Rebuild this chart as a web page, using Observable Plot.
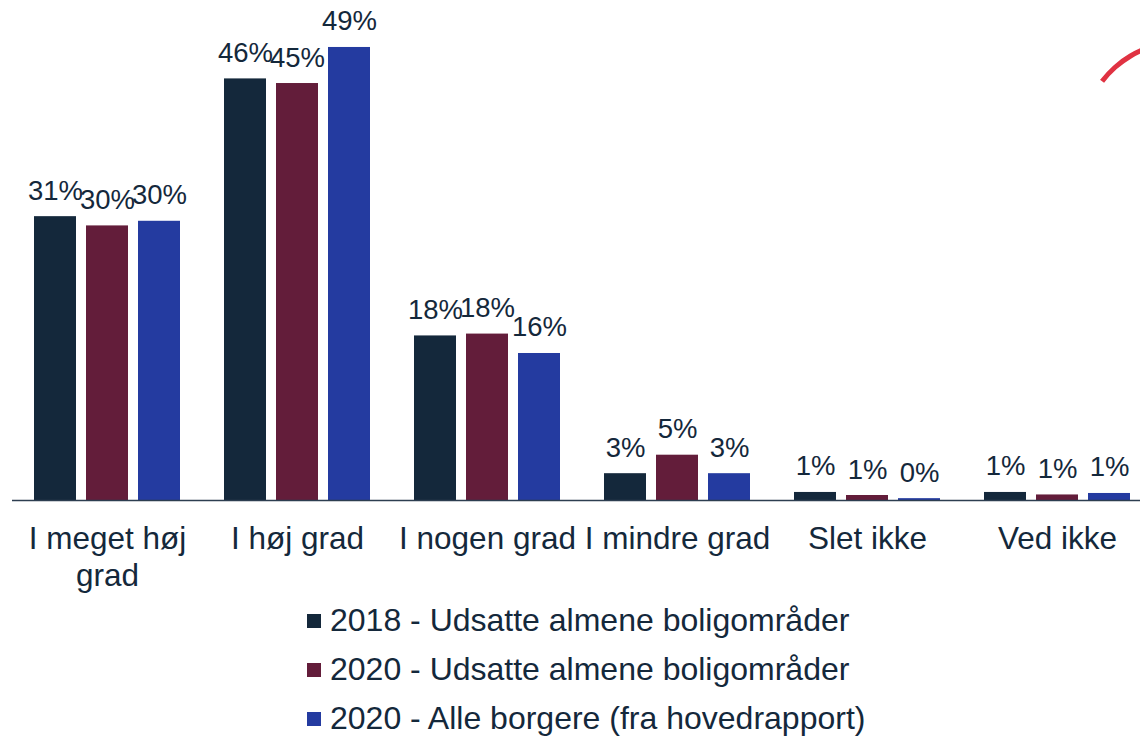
<!DOCTYPE html>
<html>
<head>
<meta charset="utf-8">
<script src="https://cdn.jsdelivr.net/npm/d3@7"></script>
<script src="https://cdn.jsdelivr.net/npm/@observablehq/plot@0.6"></script>
<style>
  html, body { margin: 0; padding: 0; background: #fff; }
  body { width: 1140px; height: 737px; overflow: hidden; position: relative;
         font-family: "Liberation Sans", Arial, sans-serif; color: #14283b; }
  #chart svg { display: block; overflow: visible; }
  .legend { position: absolute; left: 307px; top: 596px; }
  .legend .row { height: 49px; display: flex; align-items: center; font-size: 32px; white-space: nowrap; }
  .legend .sw { width: 14px; height: 14px; margin-right: 9px; flex: none; }
  .arc { position: absolute; left: 1080px; top: 40px; width: 190px; height: 190px;
         border: 5px solid transparent; border-top-color: #e03242; border-radius: 50%;
         transform: rotate(-8deg); }
</style>
</head>
<body>
<div id="chart"></div>
<div class="legend" id="legend"></div>
<div class="arc"></div>
<script>
const categories = ["I meget høj grad", "I høj grad", "I nogen grad", "I mindre grad", "Slet ikke", "Ved ikke"];
const categoryLabels = ["I meget høj\ngrad", "I høj grad", "I nogen grad", "I mindre grad", "Slet ikke", "Ved ikke"];
const series = ["2018 - Udsatte almene boligområder", "2020 - Udsatte almene boligområder", "2020 - Alle borgere (fra hovedrapport)"];
const colors = ["#14283b", "#631d3a", "#243ba0"];

const values2018 = [30.7, 45.6, 17.8, 2.9, 0.87, 0.87];
const values2020u = [29.7, 45.1, 18.0, 4.9, 0.54, 0.6];
const values2020a = [30.2, 49.0, 15.9, 2.9, 0.2, 0.76];

const labels2018 = ["31%", "46%", "18%", "3%", "1%", "1%"];
const labels2020u = ["30%", "45%", "18%", "5%", "1%", "1%"];
const labels2020a = ["30%", "49%", "16%", "3%", "0%", "1%"];

const allValues = [values2018, values2020u, values2020a];
const allLabels = [labels2018, labels2020u, labels2020a];

const data = [];
series.forEach((s, si) => {
  categories.forEach((c, ci) => {
    data.push({category: c, series: s, value: allValues[si][ci], label: allLabels[si][ci]});
  });
});
const catData = categories.map((c, i) => ({category: c, label: categoryLabels[i]}));

const font = `"Liberation Sans", Arial, sans-serif`;
const textColor = "#14283b";

const chart = Plot.plot({
  width: 1140,
  height: 596,
  marginLeft: 0,
  marginRight: 0,
  marginTop: 0,
  marginBottom: 96,
  style: {fontFamily: font, background: "transparent", overflow: "visible"},
  fx: {domain: categories, range: [12, 1152], padding: 0, axis: null},
  x: {domain: series, paddingInner: 0.2, paddingOuter: 0.41, axis: null},
  y: {domain: [0, 54.08], axis: null},
  color: {domain: series, range: colors},
  marks: [
    Plot.barY(data, {fx: "category", x: "series", y: "value", fill: "series"}),
    Plot.ruleY([0], {stroke: "#2d3e50", strokeWidth: 1.6}),
    Plot.text(data, {fx: "category", x: "series", y: "value", text: "label",
      lineAnchor: "bottom", dy: -17, fontSize: 27.5, fill: textColor}),
    Plot.text(catData, {fx: "category", text: "label", frameAnchor: "bottom",
      lineAnchor: "top", dy: 22, fontSize: 31.5, lineHeight: 1.17, fill: textColor})
  ]
});
document.getElementById("chart").appendChild(chart);

const legend = document.getElementById("legend");
series.forEach((s, i) => {
  const row = document.createElement("div");
  row.className = "row";
  const sw = document.createElement("span");
  sw.className = "sw";
  sw.style.background = colors[i];
  const t = document.createElement("span");
  t.textContent = s;
  row.appendChild(sw);
  row.appendChild(t);
  legend.appendChild(row);
});
</script>
</body>
</html>
